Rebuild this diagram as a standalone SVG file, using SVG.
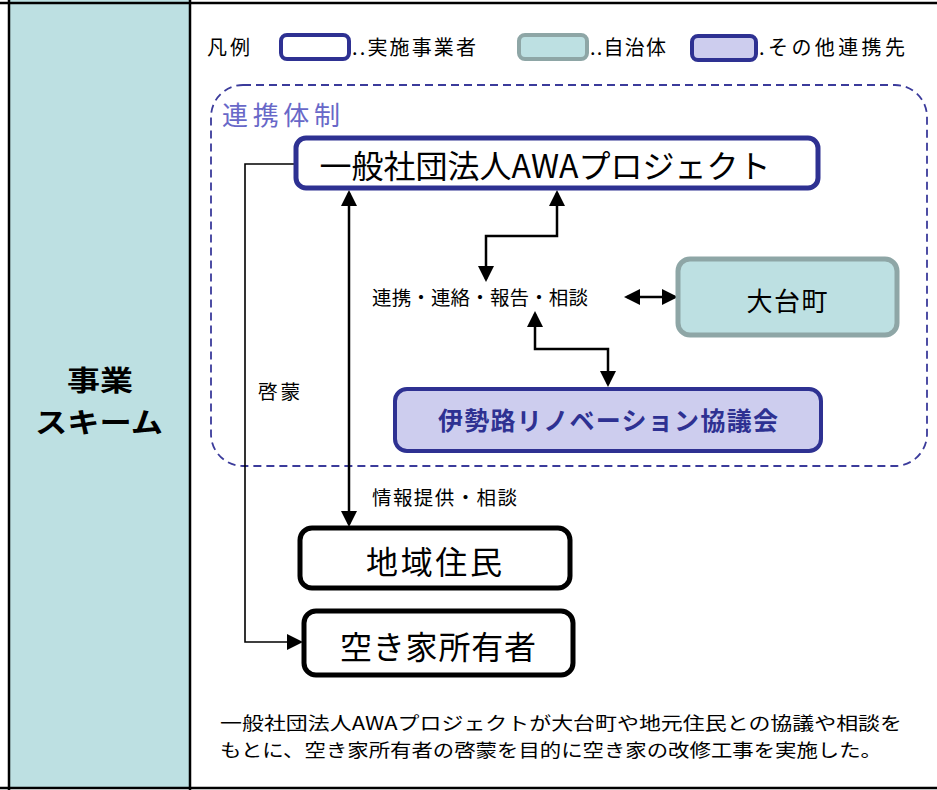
<svg xmlns="http://www.w3.org/2000/svg" width="937" height="790" viewBox="0 0 937 790">
<style>
text{font-family:"Noto Sans CJK JP","Noto Sans",sans-serif;fill:#000}
.frame{stroke:#000;stroke-width:2.5;fill:none}
.conn{fill:none;stroke:#000;stroke-width:2.5}
.thin{fill:none;stroke:#000;stroke-width:1.6}
.impl{fill:#fff;stroke:#2e3192;stroke-width:5}
.muni{fill:#bde0e2;stroke:#8ea6a6;stroke-width:5}
.part{fill:#cdcdee;stroke:#2e3192;stroke-width:4}
.plain{fill:#fff;stroke:#000;stroke-width:5}
.lg{font-size:20px}
.lbl{font-size:19.5px}
</style>
<defs>
<marker id="ah" viewBox="0 0 16 16" refX="13" refY="8" markerWidth="16" markerHeight="16" markerUnits="userSpaceOnUse" orient="auto-start-reverse">
<path d="M0,0 L16,8 L0,16 z" fill="#000"/>
</marker>
</defs>
<rect width="937" height="790" fill="#fff"/>
<g id="frame">
<rect x="9" y="0" width="181" height="788" fill="#bde0e2"/>
<line class="frame" x1="0" y1="3" x2="937" y2="3"/>
<line class="frame" x1="9" y1="0" x2="9" y2="790"/>
<line class="frame" x1="190" y1="0" x2="190" y2="790"/>
<line class="frame" x1="0" y1="788" x2="937" y2="788"/>
<text x="100" y="391" font-size="28" font-weight="bold" text-anchor="middle" textLength="66" lengthAdjust="spacingAndGlyphs">事業</text>
<text x="99" y="433" font-size="28" font-weight="bold" text-anchor="middle" textLength="128" lengthAdjust="spacingAndGlyphs">スキーム</text>
</g>
<g id="legend">
<text class="lg" x="207" y="55" textLength="43">凡例</text>
<rect x="281" y="35" width="68" height="24" rx="6" fill="#fff" stroke="#2e3192" stroke-width="4"/>
<text class="lg" x="352" y="55" textLength="124">..実施事業者</text>
<rect x="519" y="35" width="68" height="24" rx="6" fill="#bde0e2" stroke="#8ea6a6" stroke-width="4"/>
<text class="lg" x="590" y="55" textLength="76">..自治体</text>
<rect x="692" y="36" width="64" height="24" rx="6" fill="#cdcdee" stroke="#2e3192" stroke-width="4"/>
<text class="lg" x="759" y="55" textLength="146">.その他連携先</text>
</g>
<g id="group-frame">
<rect x="211" y="85" width="716" height="381" rx="32" fill="none" stroke="#3b3b9b" stroke-width="1.8" stroke-dasharray="8 5"/>
<text x="222" y="125" font-size="26" style="fill:#6868c8" textLength="118">連携体制</text>
</g>
<g id="connectors">
<path class="conn" d="M349,193 V524" marker-start="url(#ah)" marker-end="url(#ah)"/>
<path class="conn" d="M557,193 V236 H486 V279" marker-start="url(#ah)" marker-end="url(#ah)"/>
<path class="conn" d="M535,314 V349 H608 V384" marker-start="url(#ah)" marker-end="url(#ah)"/>
<path class="conn" d="M627,297 H675" marker-start="url(#ah)" marker-end="url(#ah)"/>
<path class="thin" d="M296,164 H245 V642 H300" marker-end="url(#ah)"/>
<text class="lbl" x="372" y="305" textLength="216">連携・連絡・報告・相談</text>
<text class="lbl" x="372" y="505" textLength="145">情報提供・相談</text>
<text class="lbl" x="258" y="399" textLength="42">啓蒙</text>
</g>
<g id="awa">
<rect class="impl" x="296" y="138" width="522" height="50" rx="10"/>
<text x="545" y="178" font-size="32" text-anchor="middle">一般社団法人AWAプロジェクト</text>
</g>
<g id="odai">
<rect class="muni" x="678" y="259" width="219" height="76" rx="12"/>
<text x="787" y="311" font-size="26" text-anchor="middle" textLength="81">大台町</text>
</g>
<g id="iseji">
<rect class="part" x="395" y="389" width="426" height="62" rx="12"/>
<text x="608" y="430" font-size="25" font-weight="bold" text-anchor="middle" style="fill:#2e3192" textLength="340">伊勢路リノベーション協議会</text>
</g>
<g id="residents">
<rect class="plain" x="300" y="528" width="270" height="60" rx="12"/>
<text x="434" y="574" font-size="32" text-anchor="middle" textLength="136">地域住民</text>
</g>
<g id="owners">
<rect class="plain" x="304" y="611" width="269" height="64" rx="12"/>
<text x="438" y="659" font-size="32" text-anchor="middle" textLength="196">空き家所有者</text>
</g>
<g id="note">
<text x="220" y="730" font-size="18.5" textLength="682" lengthAdjust="spacingAndGlyphs">一般社団法人AWAプロジェクトが大台町や地元住民との協議や相談を</text>
<text x="220" y="757" font-size="18.5" textLength="662" lengthAdjust="spacingAndGlyphs">もとに、空き家所有者の啓蒙を目的に空き家の改修工事を実施した。</text>
</g>
</svg>
